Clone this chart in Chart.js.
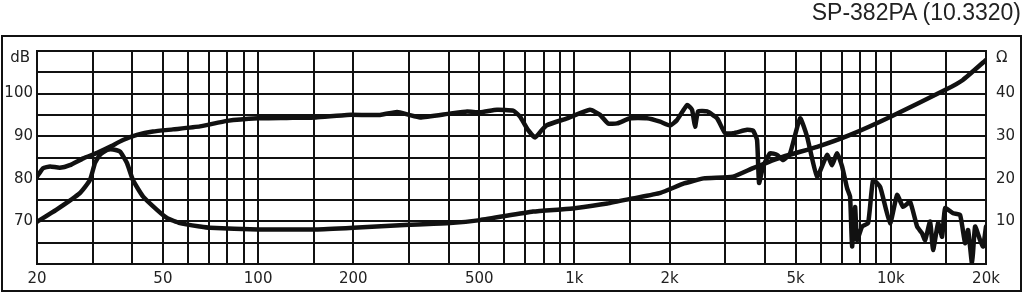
<!DOCTYPE html>
<html>
<head>
<meta charset="utf-8">
<script src="https://cdn.jsdelivr.net/npm/chart.js@4.4.0/dist/chart.umd.min.js"></script>
<style>
    body { margin: 0; background: #fff; }
    #wrap { position: relative; width: 1024px; height: 293px; }
    #grafico { display: block; }
    #titulo {
        position: absolute; right: 3px; top: -1px;
        font: 23px "Liberation Sans", Arial, sans-serif;
        line-height: 26px; color: #222; white-space: nowrap;
    }
</style>
</head>
<body>
<div id="wrap">
    <canvas id="grafico" width="1024" height="293"></canvas>
    <div id="titulo">SP-382PA (10.3320)</div>
</div>
<script>
// Frequency response (dB, left axis)
const splFreq = [20, 20.9, 22, 23.6, 25.4, 28, 31, 34, 37.4, 41.4, 46.5, 53.8, 65.5, 79.8, 100, 123, 152, 191, 243, 275,
    300, 325, 404, 458, 503, 569, 640, 673, 713, 751, 790, 819, 948, 1120, 1205, 1277, 1364, 1500, 1696, 1866,
    2006, 2110, 2270, 2354, 2406, 2460, 2626, 2824, 2994, 3174, 3514, 3670, 3778, 3834, 3948, 4154, 4372, 4566, 4806, 5168,
    5438, 5848, 6290, 6524, 6764, 7015, 7276, 7436, 7546, 7712, 7826, 8116, 8480, 8794, 9254, 9950, 10471, 10940, 11508, 12110,
    12560, 12840, 13316, 13610, 14114, 14530, 14852, 15740, 16564, 17178, 17558, 18072, 18474, 19154, 19580, 20000];
const splDb = [80.5, 82.5, 82.9, 82.6, 83.2, 84.8, 86.1, 87.5, 89.1, 90.3, 91.1, 91.6, 92.3, 93.6, 94.2, 94.3, 94.4, 95.0, 95.0, 95.7,
    95.0, 94.4, 95.3, 95.8, 95.6, 96.2, 96.0, 94.6, 91.5, 89.7, 91.5, 92.6, 94.2, 96.2, 95.0, 93.0, 93.0, 94.2, 94.2, 93.4,
    92.5, 93.8, 97.3, 96.2, 92.2, 95.8, 95.8, 94.2, 90.7, 90.7, 91.5, 91.3, 89.1, 79.0, 82.9, 86.0, 85.6, 84.4, 86.0, 94.2,
    89.9, 80.5, 85.6, 83.2, 86.0, 82.9, 77.8, 75.8, 64.1, 73.4, 65.6, 68.8, 69.6, 79.7, 78.1, 69.6, 76.2, 73.4, 74.6, 68.8,
    67.2, 65.6, 70.0, 63.3, 69.6, 66.4, 73.1, 71.9, 71.5, 64.9, 68.0, 60.0, 68.8, 65.6, 64.1, 68.8];

// Impedance (Ohm, right axis)
const impFreq = [20, 23, 27.3, 29.4, 30.5, 31.6, 33.3, 34.8, 36.6, 38.5, 40.2, 43.3, 47.9, 51.5, 56.6, 65.5, 70.5, 100, 152, 200,
    300, 404, 503, 740, 900, 1000, 1270, 1530, 1870, 2220, 2560, 3170, 3670, 4570, 5850, 7440, 9950, 15000, 16900, 20000];
const impOhm = [9.9, 12.7, 16.6, 19.7, 23.7, 25.6, 26.8, 26.9, 26.4, 23.7, 19.7, 15.8, 12.7, 10.8, 9.6, 8.8, 8.5, 8.1, 8.1, 8.5,
    9.2, 9.6, 10.3, 12.3, 12.8, 13.1, 14.2, 15.4, 16.7, 18.9, 20.1, 20.5, 22.5, 25.2, 27.5, 30.3, 34.5, 41.0, 43.2, 47.9];

// Axes
const xGrid = [20, 30, 40, 50, 60, 70, 80, 90, 100, 150, 200, 300, 400, 500, 600, 700, 800, 900,
    1000, 1500, 2000, 3000, 4000, 5000, 6000, 7000, 8000, 9000, 10000, 15000, 20000];
const xTickValues = [20, 50, 100, 200, 500, 1000, 2000, 5000, 10000, 20000];
const xTickLabels = ['20', '50', '100', '200', '500', '1k', '2k', '5k', '10k', '20k'];
const dbTickValues = [70, 80, 90, 100];
const dbTickLabels = ['70', '80', '90', '100'];
const ohmTickValues = [10, 20, 30, 40];
const ohmTickLabels = ['10', '20', '30', '40'];
const unidadeEsq = 'dB';
const unidadeDir = 'Ω';

const tinta = '#111';
const fonteEixo = { family: 'DejaVu Sans', size: 15 };

function rotulo(valores, rotulos) {
    return (v) => {
        const i = valores.indexOf(Number(v));
        return i >= 0 ? rotulos[i] : '';
    };
}

function pontos(xs, ys) {
    return xs.map((x, i) => ({ x: x, y: ys[i] }));
}

// outer frame around the plot + unit names at the top of each axis
const moldura = {
    id: 'moldura',
    beforeDraw(chart) {
        const ctx = chart.ctx;
        ctx.save();
        ctx.fillStyle = '#fff';
        ctx.fillRect(0, 0, chart.width, chart.height);
        ctx.strokeStyle = tinta;
        ctx.lineWidth = 2;
        ctx.strokeRect(2, 36, 1019, 255);
        ctx.restore();
    },
    afterDraw(chart) {
        const ctx = chart.ctx;
        const area = chart.chartArea;
        ctx.save();
        ctx.fillStyle = '#222';
        ctx.font = '15px "DejaVu Sans"';
        ctx.textBaseline = 'middle';
        ctx.textAlign = 'right';
        ctx.fillText(unidadeEsq, area.left - 7, area.top + 7);
        ctx.textAlign = 'left';
        ctx.fillText(unidadeDir, area.right + 10, area.top + 7);
        ctx.restore();
    }
};

function criaGrafico() {
    const canvas = document.getElementById('grafico');
    const linha = {
        borderColor: tinta,
        borderWidth: 4.5,
        pointRadius: 0,
        tension: 0.15,
        borderJoinStyle: 'round',
        borderCapStyle: 'round',
        fill: false
    };

    new Chart(canvas, {
        type: 'line',
        data: {
            datasets: [
                Object.assign({ label: 'SPL', data: pontos(splFreq, splDb), yAxisID: 'y' }, linha),
                Object.assign({ label: 'Impedance', data: pontos(impFreq, impOhm), yAxisID: 'y1' }, linha)
            ]
        },
        options: {
            responsive: false,
            animation: false,
            devicePixelRatio: 1,
            layout: { padding: { top: 51, left: 0, right: 0, bottom: 0 } },
            plugins: { legend: { display: false }, tooltip: { enabled: false } },
            scales: {
                x: {
                    type: 'logarithmic',
                    min: 20,
                    max: 20000,
                    afterBuildTicks: (s) => { s.ticks = xGrid.map(v => ({ value: v })); },
                    afterFit: (s) => { s.height = 29; },
                    grid: { color: tinta, lineWidth: 2, drawTicks: false },
                    border: { color: tinta, width: 2 },
                    ticks: {
                        autoSkip: false, maxRotation: 0, minRotation: 0, padding: 6,
                        color: '#222', font: fonteEixo,
                        callback: rotulo(xTickValues, xTickLabels)
                    }
                },
                y: {
                    position: 'left',
                    min: 60,
                    max: 110,
                    afterFit: (s) => { s.width = 37; },
                    grid: { color: tinta, lineWidth: 2, drawTicks: false },
                    border: { color: tinta, width: 2 },
                    ticks: {
                        stepSize: 5, padding: 4, color: '#222', font: fonteEixo,
                        callback: rotulo(dbTickValues, dbTickLabels)
                    }
                },
                y1: {
                    position: 'right',
                    min: 0,
                    max: 50,
                    afterFit: (s) => { s.width = 38; },
                    grid: { display: false, drawTicks: false },
                    border: { color: tinta, width: 2 },
                    ticks: {
                        stepSize: 5, padding: 10, color: '#222', font: fonteEixo,
                        callback: rotulo(ohmTickValues, ohmTickLabels)
                    }
                }
            }
        },
        plugins: [moldura]
    });
}

criaGrafico();
</script>
</body>
</html>
